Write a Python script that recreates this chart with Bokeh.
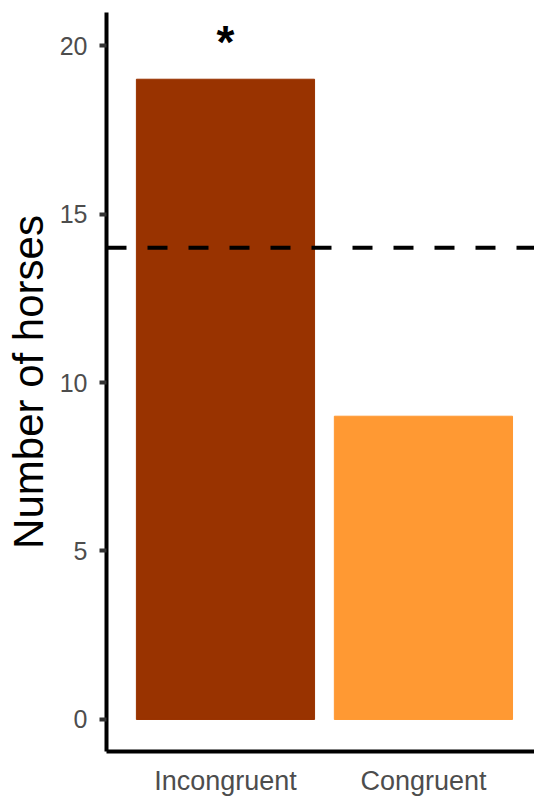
from bokeh.plotting import figure
from bokeh.models import ColumnDataSource, Range1d, FixedTicker, Span
from bokeh.core.properties import value
from bokeh.embed import file_html
from bokeh.resources import INLINE

categories = ["Incongruent", "Congruent"]
counts = [19, 9]
bar_colors = ["#993300", "#FF9933"]
chance_level = 14
sig_labels = ["*"]
sig_x = [1]
sig_y = [20.1]
y_ticks = [0, 5, 10, 15, 20]

xs = [i + 1 for i in range(len(categories))]
src = ColumnDataSource(dict(x=xs, top=counts, color=bar_colors))

p = figure(width=534, height=798, output_backend="svg", toolbar_location=None,
           x_range=Range1d(0.399, 2.561), y_range=Range1d(-0.95, 20.98),
           min_border_left=106, min_border_right=0, min_border_top=12, min_border_bottom=46)
p.background_fill_color = "white"
p.border_fill_color = "white"
p.outline_line_color = None
p.grid.visible = False

p.vbar(x="x", top="top", bottom=0, width=0.9, color="color", source=src)

p.add_layout(Span(location=chance_level, dimension="width", line_color="black",
                  line_width=4, line_dash="20 21"))

p.text(x=sig_x, y=sig_y, text=sig_labels, text_font=value("Liberation Sans"),
       text_font_style="bold", text_font_size="46px", text_align="center",
       text_baseline="alphabetic", text_color="black")

# y axis
ya = p.yaxis[0]
ya.ticker = FixedTicker(ticks=y_ticks)
ya.axis_line_color = "black"
ya.axis_line_width = 4
ya.major_tick_line_color = "#333333"
ya.major_tick_line_width = 4
ya.major_tick_out = 7
ya.major_tick_in = 0
ya.minor_tick_line_color = None
ya.major_label_text_font = "Liberation Sans"
ya.major_label_text_font_size = "25px"
ya.major_label_text_color = "#4D4D4D"
ya.major_label_standoff = 12
ya.axis_label = "Number of horses"
ya.axis_label_text_font = "Liberation Sans"
ya.axis_label_text_font_size = "42px"
ya.axis_label_text_font_style = "normal"
ya.axis_label_text_color = "black"
ya.axis_label_standoff = 5

# x axis
xa = p.xaxis[0]
xa.ticker = FixedTicker(ticks=xs)
xa.major_label_overrides = {x: c for x, c in zip(xs, categories)}
xa.axis_line_color = "black"
xa.axis_line_width = 4
xa.major_tick_line_color = None
xa.minor_tick_line_color = None
xa.major_tick_out = 0
xa.major_tick_in = 0
xa.major_label_text_font = "Liberation Sans"
xa.major_label_text_font_size = "27px"
xa.major_label_text_color = "#4D4D4D"
xa.major_label_standoff = 14

open("out.html", "w").write(file_html(p, INLINE))
